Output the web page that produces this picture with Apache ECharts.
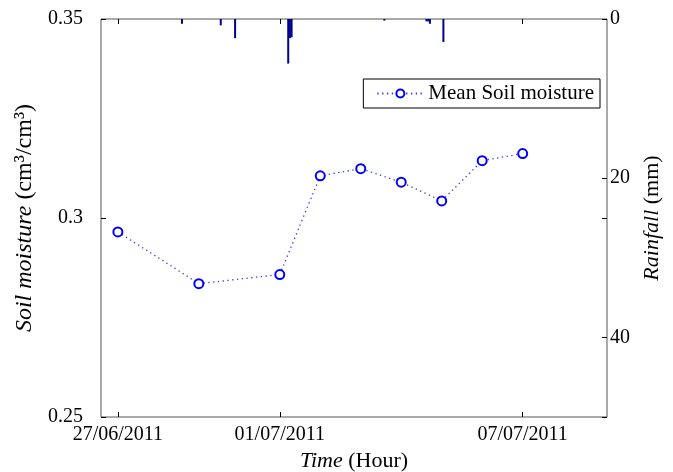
<!DOCTYPE html>
<html>
<head>
<meta charset="utf-8">
<script src="https://cdn.jsdelivr.net/npm/echarts@6/dist/echarts.min.js"></script>
<style>
  html, body { margin: 0; padding: 0; background: #fff; }
  #container { width: 673px; height: 472px; }
</style>
</head>
<body>
<div id="container"></div>
<script>
// hours counted from 27/06/2011 00:00
var soilHours = [0, 48, 96, 120, 144, 168, 192, 216, 240];
var soilMoisture = [0.2965, 0.2835, 0.2858, 0.3106, 0.3124, 0.309, 0.3043, 0.3144, 0.3162];

var rainHours = [38, 61, 69.5, 101, 102, 103, 158, 183, 184, 185, 193];
var rainfall = [0.6, 0.8, 2.4, 5.6, 2.4, 2.3, 0.2, 0.3, 0.3, 0.6, 2.9];

var timeTicks = [0, 96, 240];
var timeTickLabels = ["27/06/2011", "01/07/2011", "07/07/2011"];

var serif = "Liberation Serif";

window.onload = function() {
    var myChart = echarts.init(document.getElementById("container"));

    var soilData = soilHours.map(function(h, i) { return [h, soilMoisture[i]]; });
    var rainData = rainHours.map(function(h, i) { return [h, rainfall[i]]; });

    var tickStyle = { show: true, inside: true, length: 5, lineStyle: { color: "#000", width: 1 } };
    var noLine = { show: false, onZero: false };

    myChart.setOption({
        animation: false,
        grid: {
            left: 101, right: 66, top: 19, bottom: 55,
            outerBoundsMode: "none",
            show: true, borderColor: "#555", borderWidth: 1
        },
        legend: {
            data: ["Mean Soil moisture"],
            right: 73, top: 79,
            borderColor: "#000", borderWidth: 1,
            backgroundColor: "#fff",
            padding: [4, 6, 4, 13],
            itemWidth: 46, itemHeight: 10,
            textStyle: { fontFamily: serif, fontSize: 21, color: "#000" }
        },
        xAxis: [{
            type: "value",
            position: "bottom",
            min: -10, max: 290,
            axisLine: noLine,
            splitLine: { show: false },
            axisTick: Object.assign({ customValues: timeTicks }, tickStyle),
            axisLabel: {
                customValues: timeTicks,
                margin: 8,
                fontFamily: serif, fontSize: 20, color: "#000",
                formatter: function(v) {
                    return timeTickLabels[timeTicks.indexOf(v)];
                }
            },
            name: "{i|Time} (Hour)",
            nameLocation: "middle",
            nameGap: 32,
            nameTextStyle: {
                fontFamily: serif, fontSize: 22, color: "#000",
                rich: { i: { fontFamily: serif, fontSize: 22, fontStyle: "italic", color: "#000" } }
            }
        }, {
            type: "value",
            position: "top",
            min: -10, max: 290,
            axisLine: noLine,
            splitLine: { show: false },
            axisTick: Object.assign({ customValues: timeTicks }, tickStyle),
            axisLabel: { show: false }
        }],
        yAxis: [{
            type: "value",
            position: "left",
            min: 0.25, max: 0.35, interval: 0.05,
            axisLine: noLine,
            splitLine: { show: false },
            axisTick: tickStyle,
            axisLabel: { margin: 18, fontFamily: serif, fontSize: 20, color: "#000" },
            name: "{i|Soil moisture} (cm³/cm³)",
            nameLocation: "middle",
            nameRotate: 90,
            nameGap: 47,
            nameTextStyle: {
                fontFamily: serif, fontSize: 24, color: "#000",
                rich: { i: { fontFamily: serif, fontSize: 24, fontStyle: "italic", color: "#000" } }
            }
        }, {
            type: "value",
            position: "right",
            min: 0, max: 50, interval: 20,
            inverse: true,
            axisLine: noLine,
            splitLine: { show: false },
            axisTick: tickStyle,
            axisLabel: { margin: 3, showMaxLabel: false, fontFamily: serif, fontSize: 20, color: "#000" },
            name: "{i|Rainfall} (mm)",
            nameLocation: "middle",
            nameRotate: 90,
            nameGap: 34,
            nameTextStyle: {
                fontFamily: serif, fontSize: 22, color: "#000",
                rich: { i: { fontFamily: serif, fontSize: 22, fontStyle: "italic", color: "#000" } }
            }
        }, {
            // left axis ticks mirrored on the right side of the box
            type: "value",
            position: "right",
            min: 0.25, max: 0.35, interval: 0.05,
            axisLine: noLine,
            splitLine: { show: false },
            axisTick: tickStyle,
            axisLabel: { show: false }
        }],
        series: [{
            name: "Rainfall",
            type: "bar",
            xAxisIndex: 0,
            yAxisIndex: 1,
            data: rainData,
            barWidth: 2,
            itemStyle: { color: "#00008b" }
        }, {
            name: "Mean Soil moisture",
            type: "line",
            xAxisIndex: 0,
            yAxisIndex: 0,
            data: soilData,
            symbol: "emptyCircle",
            symbolSize: 9,
            itemStyle: { color: "#0000ff", borderWidth: 1.5 },
            lineStyle: { color: "#3333ff", width: 1.3, type: [1.3, 3.5] }
        }]
    });
};
</script>
</body>
</html>
